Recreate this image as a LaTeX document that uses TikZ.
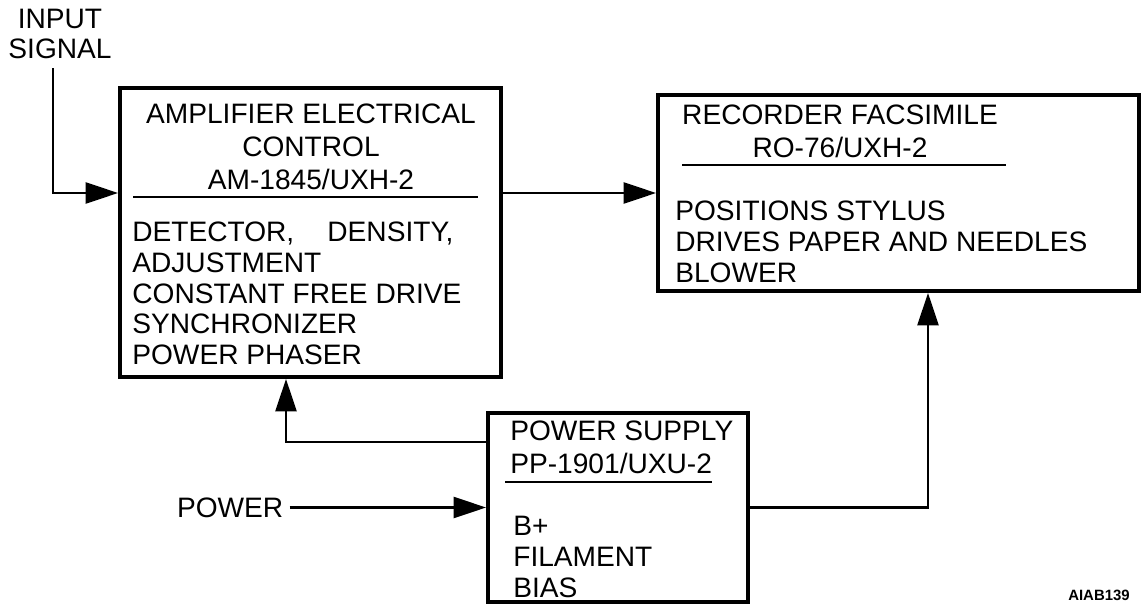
\documentclass[tikz,border=0pt]{standalone}
\usepackage{fontspec}
\setmainfont{Liberation Sans}
\usetikzlibrary{positioning,arrows.meta}

\begin{document}
\begin{tikzpicture}[
  font=\fontsize{16}{18.8}\selectfont, >={Triangle[length=6.5mm,width=4.2mm]},
  unit/.style={draw, line width=2.2pt, inner sep=0pt},
  ttl/.style={inner sep=0pt, align=center},
  body/.style={inner sep=0pt, align=left, anchor=west,
               font=\fontsize{16}{17.5}\selectfont},
  sep/.style={line width=1.2pt},
  wire/.style={line width=1.5pt},
]
  \useasboundingbox (0,0) rectangle (22.84,12.14);
  % blocks
  \node[unit, minimum width=7.62cm, minimum height=5.78cm] (amp) at (6.21,7.49) {};
  \node[unit, minimum width=9.62cm, minimum height=3.92cm] (rec) at (17.97,8.28) {};
  \node[unit, minimum width=5.2cm, minimum height=3.78cm] (ps) at (12.36,1.99) {};
  % block titles
  \node[ttl] (ampT) at (6.22,9.20) {AMPLIFIER ELECTRICAL\\CONTROL\\AM-1845/UXH-2};
  \node[ttl] (recT) at (16.8,9.52) {RECORDER FACSIMILE\\RO-76/UXH-2};
  \node[ttl, align=left, anchor=west] (psT) at (10.2,3.19) {POWER SUPPLY\\PP-1901/UXU-2};
  \draw[sep] (2.66,8.20) -- (9.56,8.20);
  \draw[sep] (13.64,8.84) -- (20.12,8.84);
  \draw[sep] (10.1,2.5) -- (14.24,2.5);
  % block contents
  \node[body] (ampB) at (2.64,6.27) {DETECTOR,\hspace{0.9em} DENSITY,\\ADJUSTMENT\\CONSTANT FREE DRIVE\\SYNCHRONIZER\\POWER PHASER};
  \node[body] (recB) at (13.5,7.30) {POSITIONS STYLUS\\DRIVES PAPER AND NEEDLES\\BLOWER};
  \node[body] (psB) at (10.26,1.0) {B+\\FILAMENT\\BIAS};
  % inputs
  \node[ttl, font=\fontsize{16}{17}\selectfont] (insig) at (1.2,11.46) {INPUT\\SIGNAL};
  \coordinate (inp) at (1.06,10.78);
  \node[anchor=east] (pwr) at (5.79,1.99) {POWER};
  % signal flow
  \draw[wire,->] (inp) |- (amp.west |- rec.west);
  \draw[wire,->] (amp.east |- rec.west) -- (rec.west);
  \draw[wire,->] (pwr) -- (ps);
  \draw[wire,->] ([yshift=1.31cm]ps.west) -| ([xshift=-0.49cm]amp.south);
  \draw[wire,->] (ps.east) -| ([xshift=0.59cm]rec.south);
  \node[font=\fontsize{8.5}{10}\selectfont\bfseries] (code) at (21.98,0.24) {AIAB139};
\end{tikzpicture}
\end{document}
